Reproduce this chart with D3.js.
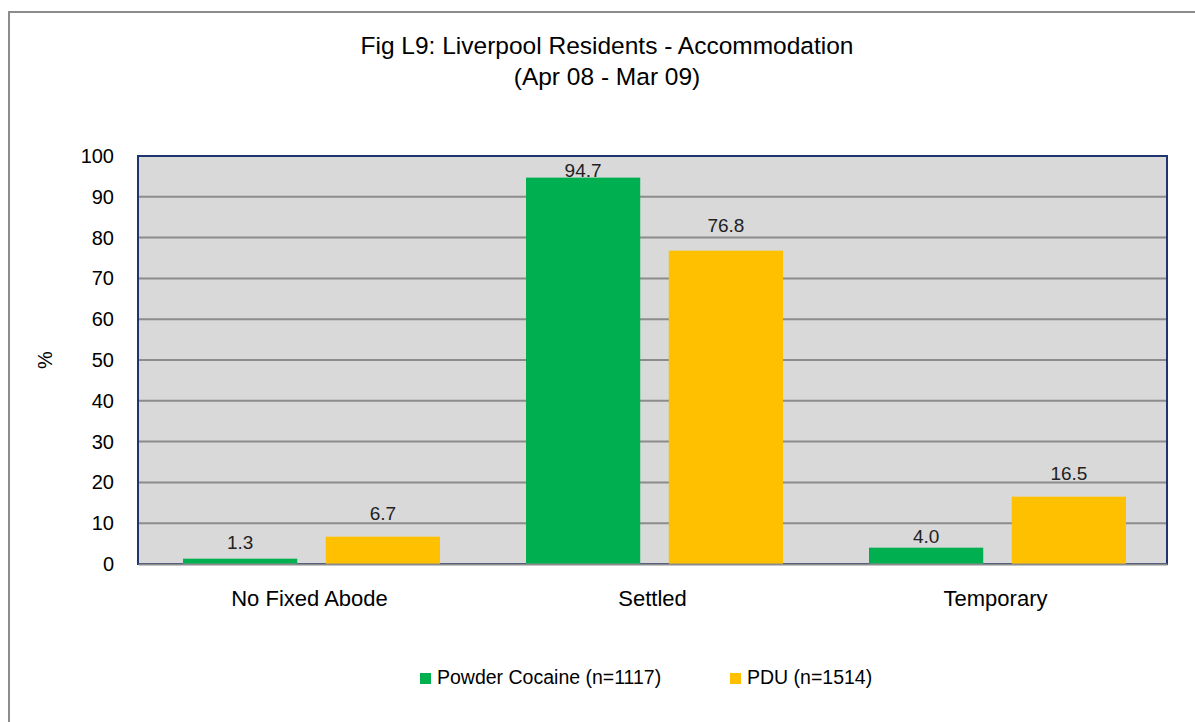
<!DOCTYPE html>
<html>
<head>
<meta charset="utf-8">
<script src="https://cdn.jsdelivr.net/npm/d3@7"></script>
<style>
  body { margin: 0; background: #fff; }
  text { font-family: "Liberation Sans", Arial, sans-serif; fill: #000; }
</style>
</head>
<body>
<div id="chart"></div>
<script>
// data
var categories = ["No Fixed Abode", "Settled", "Temporary"];
var seriesNames = ["Powder Cocaine (n=1117)", "PDU (n=1514)"];
var cocaine = [1.3, 94.7, 4.0];
var pdu = [6.7, 76.8, 16.5];
var yTicks = [0, 10, 20, 30, 40, 50, 60, 70, 80, 90, 100];
var titleLines = ["Fig L9: Liverpool Residents - Accommodation", "(Apr 08 - Mar 09)"];

var colors = ["#00b050", "#ffc000"];
// label offsets above bar top (labels in the original were nudged by hand)
var labelNudge = [[10, 17], [1, 19], [5, 17]];

// set the dimensions and margins of the graph
var margin = {top: 156, right: 28, bottom: 158, left: 138},
    width = 1195 - margin.left - margin.right,
    height = 722 - margin.top - margin.bottom;

var root = d3.select("#chart")
  .append("svg")
    .attr("width", 1195)
    .attr("height", 722);

// outer chart border
root.append("rect")
  .attr("x", 9).attr("y", 12)
  .attr("width", 1200).attr("height", 720)
  .attr("fill", "none")
  .attr("stroke", "#8c8c8c")
  .attr("stroke-width", 2);

// title
root.append("text")
  .attr("x", 607).attr("y", 54)
  .attr("text-anchor", "middle")
  .style("font-size", "24.5px")
  .text(titleLines[0]);
root.append("text")
  .attr("x", 607).attr("y", 85)
  .attr("text-anchor", "middle")
  .style("font-size", "24.5px")
  .text(titleLines[1]);

var svg = root.append("g")
  .attr("transform", "translate(" + margin.left + "," + margin.top + ")");

// plot background
svg.append("rect")
  .attr("width", width).attr("height", height)
  .attr("fill", "#d9d9d9");

// scales
var x0 = d3.scaleBand()
  .domain(categories)
  .range([0, width]);

var x1 = d3.scaleBand()
  .domain(seriesNames)
  .range([45, x0.bandwidth() - 41])
  .paddingInner(0.2);

var y = d3.scaleLinear()
  .domain([0, 100])
  .range([height, 0]);

// gridlines
svg.append("g")
  .selectAll("line")
  .data(yTicks.filter(function(d) { return d > 0 && d < 100; }))
  .enter().append("line")
    .attr("x1", 0).attr("x2", width)
    .attr("y1", function(d) { return y(d); })
    .attr("y2", function(d) { return y(d); })
    .attr("stroke", "#8c8c8c")
    .attr("stroke-width", 2);

// plot border
svg.append("rect")
  .attr("width", width).attr("height", height)
  .attr("fill", "none")
  .attr("stroke", "#1f3570")
  .attr("stroke-width", 2);

// Y axis labels
var yAxis = svg.append("g")
  .call(d3.axisLeft(y).tickValues(yTicks).tickSize(0).tickPadding(24));
yAxis.select(".domain").remove();
yAxis.selectAll("text").style("font-size", "20px");

// bars
var rows = categories.map(function(c, i) {
  return {cat: c, i: i, vals: [cocaine[i], pdu[i]]};
});

var groups = svg.selectAll(".grp")
  .data(rows)
  .enter().append("g")
    .attr("class", "grp")
    .attr("transform", function(d) { return "translate(" + x0(d.cat) + ",0)"; });

groups.selectAll("rect")
  .data(function(d) { return d.vals.map(function(v, j) { return {v: v, j: j, i: d.i}; }); })
  .enter().append("rect")
    .attr("x", function(d) { return x1(seriesNames[d.j]); })
    .attr("y", function(d) { return y(d.v); })
    .attr("width", x1.bandwidth())
    .attr("height", function(d) { return height - y(d.v); })
    .attr("fill", function(d) { return colors[d.j]; });

groups.selectAll(".lbl")
  .data(function(d) { return d.vals.map(function(v, j) { return {v: v, j: j, i: d.i}; }); })
  .enter().append("text")
    .attr("class", "lbl")
    .attr("x", function(d) { return x1(seriesNames[d.j]) + x1.bandwidth() / 2; })
    .attr("y", function(d) { return y(d.v) - labelNudge[d.i][d.j]; })
    .attr("text-anchor", "middle")
    .style("font-size", "19px")
    .style("fill", "#222")
    .text(function(d) { return d.v.toFixed(1); });

// X axis
var xAxis = svg.append("g")
  .attr("transform", "translate(0," + height + ")")
  .call(d3.axisBottom(x0).tickSize(0).tickPadding(26));
xAxis.select(".domain")
  .attr("stroke", "#8c8c8c")
  .attr("stroke-width", 2);
xAxis.selectAll("text").style("font-size", "22px");

// Y axis title
root.append("text")
  .attr("transform", "translate(52,360) rotate(-90)")
  .attr("text-anchor", "middle")
  .style("font-size", "20px")
  .text("%");

// legend
var legendX = [420, 730];
var legend = root.selectAll(".leg")
  .data(seriesNames)
  .enter().append("g")
    .attr("class", "leg")
    .attr("transform", function(d, i) { return "translate(" + legendX[i] + ",673)"; });
legend.append("rect")
  .attr("width", 11).attr("height", 11)
  .attr("fill", function(d, i) { return colors[i]; });
legend.append("text")
  .attr("x", 17).attr("y", 11)
  .style("font-size", "19.5px")
  .text(function(d) { return d; });
</script>
</body>
</html>
